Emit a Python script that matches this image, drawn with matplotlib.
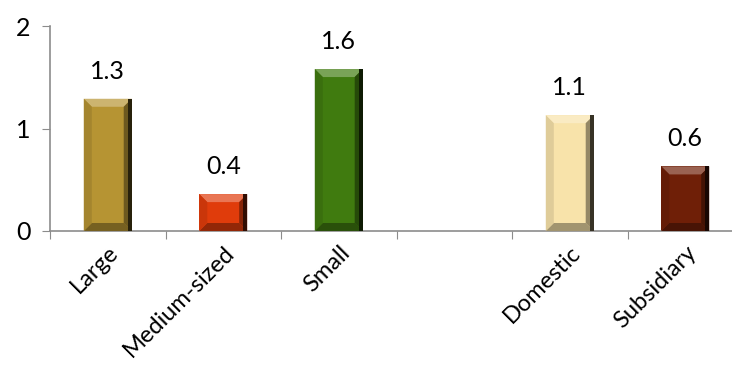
import numpy as np
import matplotlib
matplotlib.use("Agg")
import matplotlib.pyplot as plt
from matplotlib.patches import Polygon
import matplotlib.colors as mcolors

plt.rcParams['font.family'] = ['Lato', 'DejaVu Sans']

categories = ["Large", "Medium-sized", "Small", "", "Domestic", "Subsidiary"]
values = [1.29, 0.36, 1.58, np.nan, 1.13, 0.63]
labels = ["1.3", "0.4", "1.6", "", "1.1", "0.6"]
colors = ["#B69433", "#E03C0B", "#407B0F", "#FFFFFF", "#F8E3AA", "#6F1F07"]
yticks = [0, 1, 2]

W, H = 732, 369
fig = plt.figure(figsize=(W / 100, H / 100), dpi=100)
ax = fig.add_axes([50 / W, 138 / H, 693 / W, 205 / H])
ax.set_xlim(-0.5, len(categories) - 0.5)
ax.set_ylim(0, 2)

x = np.arange(len(categories))
bw = 0.415
bars = ax.bar(x, values, width=bw, color=colors, zorder=2, linewidth=0)

fig.canvas.draw()
to_data = ax.transData.inverted()


def shade(c, f):
    r = np.array(mcolors.to_rgb(c))
    if f >= 0:
        r = r + (1 - r) * f
    else:
        r = r * (1 + f)
    return tuple(np.clip(r, 0, 1))


def px(pts):
    return to_data.transform(pts)


for rect, c, v in zip(bars.patches, colors, values):
    if np.isnan(v):
        continue
    (X0, Y0) = ax.transData.transform((rect.get_x(), 0))
    (X1, Y1) = ax.transData.transform((rect.get_x() + rect.get_width(), v))
    b, t = 8, 8
    polys = [
        ([(X0, Y1), (X1, Y1), (X1 - b, Y1 - t), (X0 + b, Y1 - t)], shade(c, 0.30)),
        ([(X0, Y0), (X1, Y0), (X1 - b, Y0 + t), (X0 + b, Y0 + t)], shade(c, -0.35)),
        ([(X0, Y0), (X0 + b, Y0 + t), (X0 + b, Y1 - t), (X0, Y1)], shade(c, -0.10)),
        ([(X1, Y0), (X1 - b, Y0 + t), (X1 - b, Y1 - t), (X1, Y1)], shade(c, -0.40)),
        ([(X1 - 4, Y0), (X1, Y0), (X1, Y1), (X1 - 4, Y1)], shade(c, -0.78)),
    ]
    for pts, col in polys:
        ax.add_patch(Polygon(px(pts), closed=True, facecolor=col, edgecolor='none', zorder=3))

for xi, v, lab in zip(x, values, labels):
    if np.isnan(v):
        continue
    ax.annotate(lab, (xi, v), xytext=(0, 14.5), textcoords='offset points',
                ha='center', va='baseline', fontsize=18, color='black')

for s in ['top', 'right']:
    ax.spines[s].set_visible(False)
for s in ['left', 'bottom']:
    ax.spines[s].set_color('#8C8C8C')
    ax.spines[s].set_linewidth(1.2)

ax.set_yticks(yticks)
ax.set_yticklabels([str(t) for t in yticks], fontsize=18)
ax.tick_params(axis='y', length=6, color='#8C8C8C', pad=8)

ax.set_xticks(np.arange(len(categories) + 1) - 0.5)
ax.set_xticklabels([])
ax.tick_params(axis='x', which='major', length=6, color='#8C8C8C')
ax.set_xticks(x, minor=True)
ax.set_xticklabels(categories, minor=True, fontsize=17, rotation=45,
                   ha='right', rotation_mode='anchor')
ax.tick_params(axis='x', which='minor', length=0, pad=8)

fig.savefig("out.png", dpi=100)
